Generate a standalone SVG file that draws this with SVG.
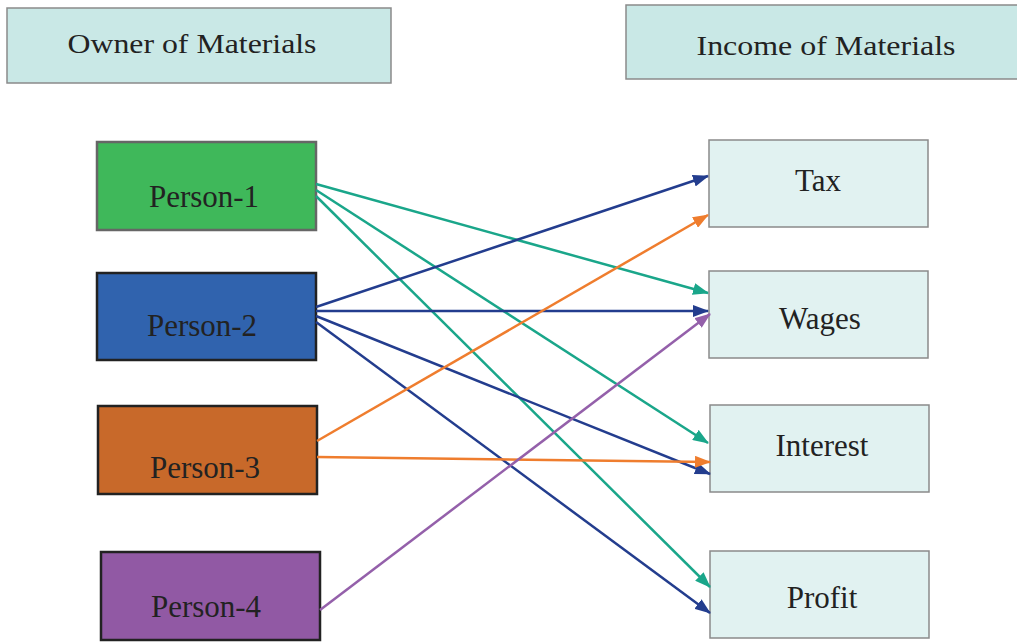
<svg xmlns="http://www.w3.org/2000/svg" width="1017" height="642" viewBox="0 0 1017 642">
<style>
.hdr{fill:#c9e8e6;stroke:#8a8a8a;stroke-width:1.5}
.inc{fill:#e1f2f1;stroke:#8a8a8a;stroke-width:1.5}
.per{stroke:#222;stroke-width:2.5}
text{font-family:"Liberation Serif","Times New Roman",serif;fill:#222;text-anchor:middle}
.ht{font-size:28px}
.lt{font-size:31px}
.c line{stroke-width:2.5;fill:none}
.g{stroke:#1aa68a}.b{stroke:#233d8e}.o{stroke:#ef7d2e}.p{stroke:#9460aa}
</style>
<defs>
<marker id="ag" markerWidth="16" markerHeight="12" refX="15" refY="6" orient="auto" markerUnits="userSpaceOnUse"><path d="M0,0 L16,6 L0,12 Z" fill="#1aa68a"/></marker>
<marker id="ab" markerWidth="16" markerHeight="12" refX="15" refY="6" orient="auto" markerUnits="userSpaceOnUse"><path d="M0,0 L16,6 L0,12 Z" fill="#233d8e"/></marker>
<marker id="ao" markerWidth="16" markerHeight="12" refX="15" refY="6" orient="auto" markerUnits="userSpaceOnUse"><path d="M0,0 L16,6 L0,12 Z" fill="#ef7d2e"/></marker>
<marker id="ap" markerWidth="16" markerHeight="12" refX="15" refY="6" orient="auto" markerUnits="userSpaceOnUse"><path d="M0,0 L16,6 L0,12 Z" fill="#9460aa"/></marker>
</defs>
<rect width="1017" height="642" fill="#fff"/>
<g id="owner-header"><rect class="hdr" x="7" y="8" width="384" height="75"/><text class="ht" x="192" y="53" textLength="249" lengthAdjust="spacingAndGlyphs">Owner of Materials</text></g>
<g id="income-header"><rect class="hdr" x="626" y="5" width="395" height="74"/><text class="ht" x="826" y="55" textLength="259" lengthAdjust="spacingAndGlyphs">Income of Materials</text></g>
<g id="person-1"><rect x="97" y="142" width="219" height="88" fill="#3fb85a" stroke="#666" stroke-width="2.5"/><text class="lt" x="204" y="207">Person-1</text></g>
<g id="person-2"><rect class="per" x="97" y="273" width="219" height="87" fill="#3063ae"/><text class="lt" x="202" y="336">Person-2</text></g>
<g id="person-3"><rect class="per" x="98" y="406" width="219" height="88" fill="#c8692a"/><text class="lt" x="205" y="478">Person-3</text></g>
<g id="person-4"><rect class="per" x="101" y="552" width="219" height="88" fill="#9159a4"/><text class="lt" x="206" y="617">Person-4</text></g>
<g id="tax"><rect class="inc" x="709" y="140" width="219" height="87"/><text class="lt" x="818" y="191">Tax</text></g>
<g id="wages"><rect class="inc" x="709" y="271" width="219" height="87"/><text class="lt" x="820" y="329">Wages</text></g>
<g id="interest"><rect class="inc" x="710" y="405" width="219" height="87"/><text class="lt" x="822" y="456">Interest</text></g>
<g id="profit"><rect class="inc" x="710" y="551" width="219" height="87"/><text class="lt" x="822" y="608">Profit</text></g>
<g id="connectors" class="c">
<line class="g" x1="316" y1="184" x2="708" y2="293" marker-end="url(#ag)"/>
<line class="g" x1="316" y1="190" x2="708" y2="443" marker-end="url(#ag)"/>
<line class="g" x1="316" y1="196" x2="710" y2="587" marker-end="url(#ag)"/>
<line class="b" x1="316" y1="307" x2="708" y2="176" marker-end="url(#ab)"/>
<line class="b" x1="316" y1="311" x2="708" y2="311" marker-end="url(#ab)"/>
<line class="b" x1="316" y1="316" x2="710" y2="474" marker-end="url(#ab)"/>
<line class="b" x1="316" y1="322" x2="710" y2="613" marker-end="url(#ab)"/>
<line class="o" x1="317" y1="441" x2="708" y2="215" marker-end="url(#ao)"/>
<line class="o" x1="317" y1="457" x2="710" y2="462" marker-end="url(#ao)"/>
<line class="p" x1="320" y1="610" x2="710" y2="314" marker-end="url(#ap)"/>
</g>
</svg>
